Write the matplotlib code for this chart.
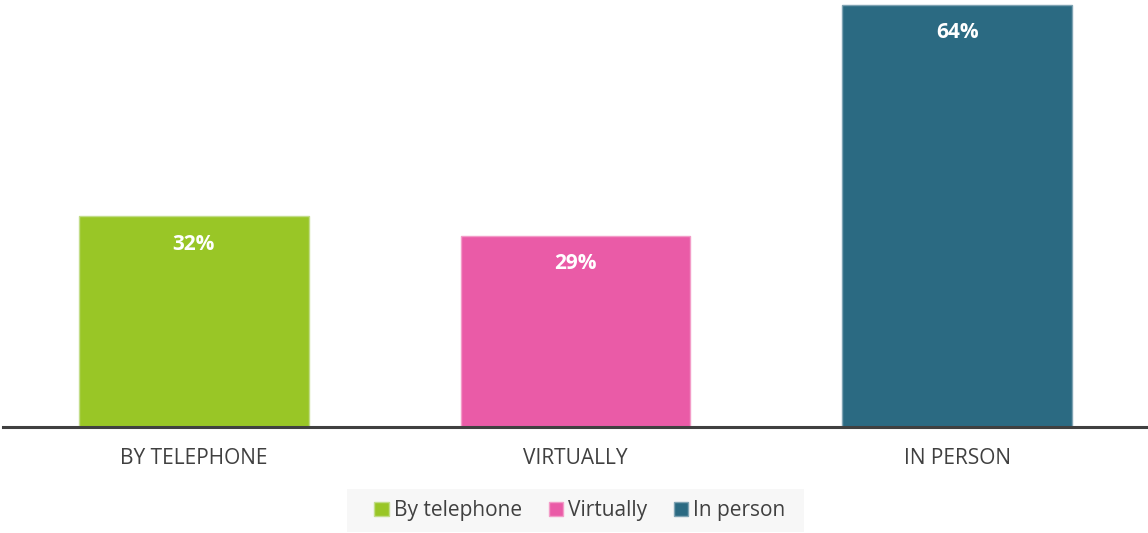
import matplotlib.pyplot as plt
from matplotlib.patches import Patch, Rectangle

plt.rcParams['font.family'] = ['Open Sans', 'DejaVu Sans']

categories = ['BY TELEPHONE', 'VIRTUALLY', 'IN PERSON']
series = ['By telephone', 'Virtually', 'In person']
values = [32, 29, 64]
colors = ['#99c626', '#ea5ba7', '#2b6a82']
edges = ['#c2dd8a', '#f39cc8', '#7fa3b3']

W, H = 1148, 533
fig = plt.figure(figsize=(W / 100, H / 100), dpi=100)
ax = fig.add_axes([3 / W, 106 / H, 1145 / W, 427 / H])

x = range(len(values))
bars = ax.bar(x, values, width=0.602, color=colors, edgecolor=edges, linewidth=1)

for b, v in zip(bars, values):
    ax.text(b.get_x() + b.get_width() / 2, v - 4.3, f'{v}%',
            ha='center', va='center', color='white', fontsize=15, fontweight='bold')

ax.set_xlim(-0.5, 2.5)
ax.set_ylim(0, 64.7)
ax.set_xticks(list(x))
ax.set_xticklabels(categories, fontsize=15, color='#404040')
ax.tick_params(axis='x', length=0, pad=15)
ax.set_yticks([])
for s in ['top', 'right', 'left']:
    ax.spines[s].set_visible(False)
ax.spines['bottom'].set_color('#404040')
ax.spines['bottom'].set_linewidth(2.2)

# legend background panel
fig.patches.append(Rectangle((347 / W, 1 - 532 / H), 457 / W, 43 / H,
                             transform=fig.transFigure, facecolor='#f7f7f7',
                             edgecolor='none', zorder=0))

handles = [Patch(facecolor=c, edgecolor=e, linewidth=1) for c, e in zip(colors, edges)]
leg = fig.legend(handles, series, loc='center', bbox_to_anchor=(580 / W, 1 - 510.5 / H),
                 ncol=3, frameon=False, fontsize=15, handlelength=0.68, handleheight=0.68,
                 handletextpad=0.24, columnspacing=1.3, borderpad=0, borderaxespad=0)
for t in leg.get_texts():
    t.set_color('#404040')

fig.savefig('out.png', dpi=100)
